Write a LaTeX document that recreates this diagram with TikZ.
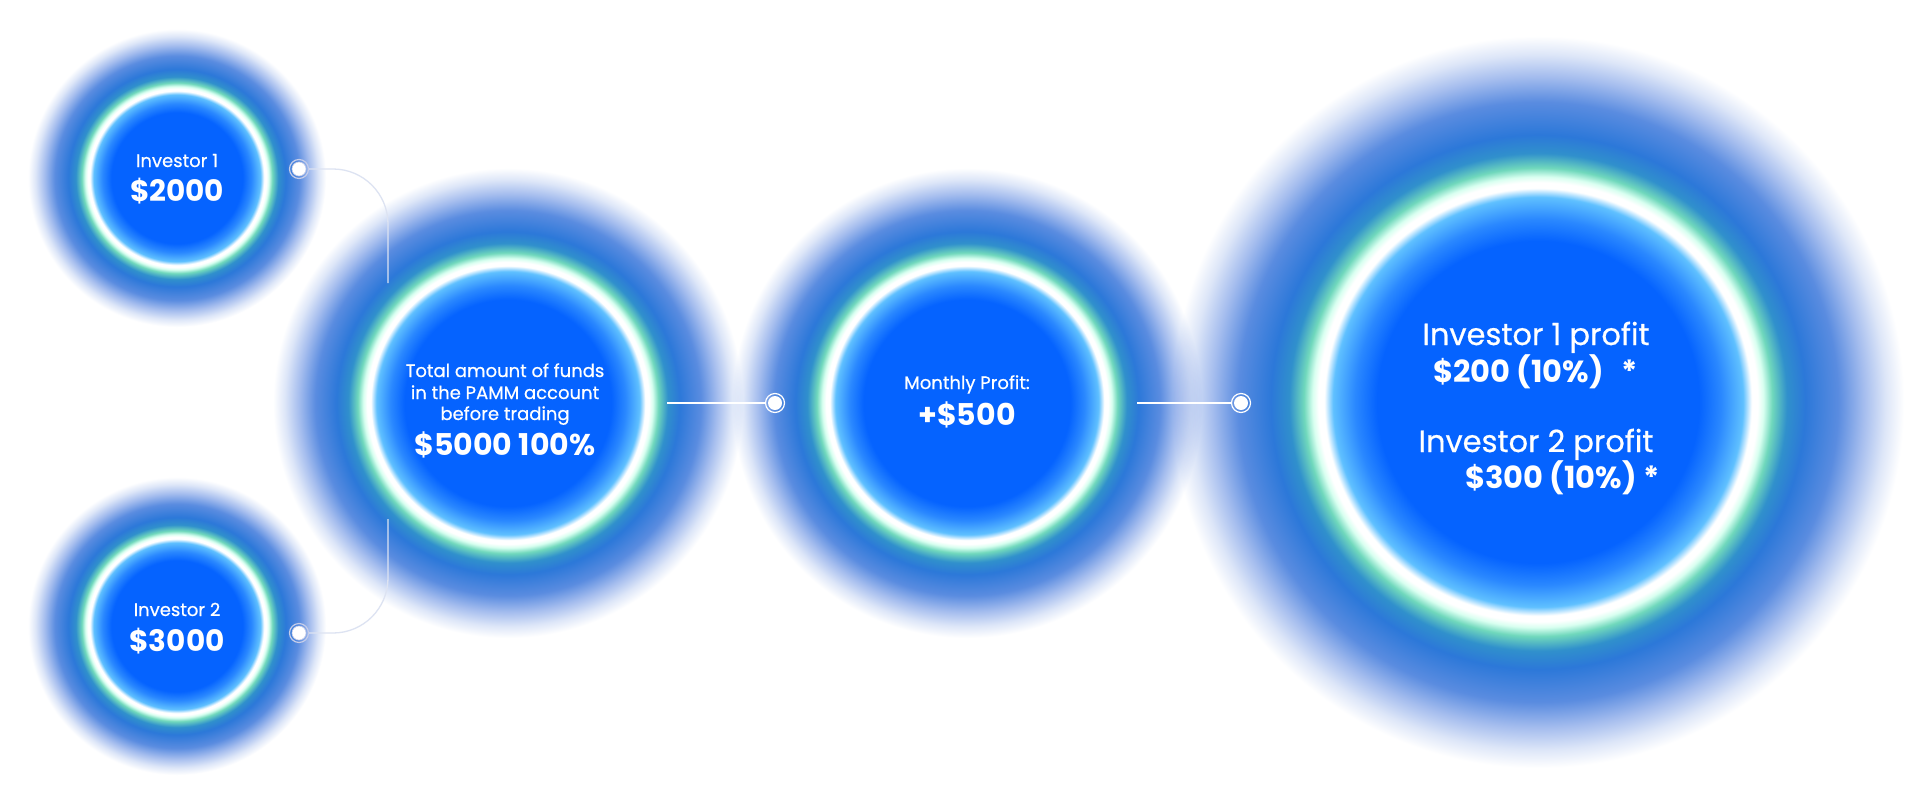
\documentclass[tikz,border=0pt]{standalone}
\usepackage{fontspec}
\setmainfont{Poppins}
\definecolor{gcore}{HTML}{0563FF}
\definecolor{gin}{HTML}{2A88FF}
\definecolor{glight}{HTML}{5FC0FF}
\definecolor{gmint}{HTML}{D8FFF0}
\definecolor{ggreen}{HTML}{70D8BC}
\definecolor{gteal}{HTML}{3090CC}
\definecolor{gblue}{HTML}{2C78D9}
\definecolor{gmid}{HTML}{5A8CE0}
\definecolor{glav}{HTML}{A5BDEE}
\definecolor{gpale}{HTML}{DDE6F8}
\definecolor{connc}{HTML}{DDE3F2}
\definecolor{dotedge}{HTML}{C5CCE8}
\pgfdeclareradialshading{glow}{\pgfpoint{0bp}{0bp}}{%
color(0bp)=(gcore); color(11bp)=(gcore); color(12.5bp)=(gin);
color(14bp)=(glight); color(14.6bp)=(white); color(15bp)=(white);
color(15.4bp)=(gmint); color(16bp)=(ggreen); color(17bp)=(gteal);
color(18.25bp)=(gblue); color(20.5bp)=(gmid); color(22.25bp)=(glav);
color(23.75bp)=(gpale); color(25bp)=(white); color(50bp)=(white)}
\begin{document}
\begin{tikzpicture}[x=1pt,y=-1pt,
  glowc/.style={circle, inner sep=0pt, draw=none, shading=glow, blend mode=multiply},
  lbl/.style={text=white, inner sep=0pt, font=\fontsize{18}{21}\selectfont\addfontfeature{FakeBold=0.6}},
  val/.style={text=white, inner sep=0pt, font=\fontsize{30}{34}\selectfont\bfseries},
  sval/.style={text=white, inner sep=0pt, font=\fontsize{29.5}{34}\selectfont\bfseries},
  biglbl/.style={text=white, inner sep=0pt, font=\fontsize{30.5}{36}\selectfont\addfontfeature{FakeBold=0.6}},
  bigval/.style={text=white, inner sep=0pt, font=\fontsize{30.5}{36}\selectfont\bfseries},
  conn/.style={draw=connc, line width=1.3pt},
  connw/.style={draw=white, line width=2pt},
  dotring/.style={circle, draw=white, line width=1.2pt, minimum size=19pt, inner sep=0pt},
  dotcore/.style={circle, fill=white, minimum size=14pt, inner sep=0pt},
  dotringl/.style={dotring, draw=dotedge},
  dotcorel/.style={dotcore, draw=dotedge, line width=0.6pt}]
\useasboundingbox (0,0) rectangle (1927,806);
\fill[white] (0,0) rectangle (1927,806);

% glows
\node[glowc, minimum size=298pt] (inv1) at (177,178) {};
\node[glowc, minimum size=298pt] (inv2) at (177,626) {};
\node[glowc, minimum size=470pt] (total) at (508,403) {};
\node[glowc, minimum size=470pt] (month) at (967,403) {};
\node[glowc, minimum size=732pt] (result) at (1538,402) {};

% connectors
\coordinate (j1) at (388,283);
\coordinate (j2) at (388,519);
\coordinate (h1) at (667,403);
\coordinate (h2) at (1137,403);
\node[dotringl] (d1) at (299,169) {};
\node[dotringl] (d2) at (299,633) {};
\node[dotring] (d3) at (775,403) {};
\node[dotring] (d4) at (1241,403) {};
\draw[conn, rounded corners=55pt] (d1.east) -| (j1);
\draw[conn, rounded corners=55pt] (d2.east) -| (j2);
\draw[connw] (h1) -- (d3.west);
\draw[connw] (h2) -- (d4.west);
\node[dotcorel] (d1c) at (d1) {};
\node[dotcorel] (d2c) at (d2) {};
\node[dotcore] (d3c) at (d3) {};
\node[dotcore] (d4c) at (d4) {};

% texts
\node[lbl, anchor=base] (inv1a) at (177,167) {Investor 1};
\node[sval, anchor=base] (inv1b) at (177,201) {\$2000};
\node[lbl, anchor=base] (inv2a) at (177,616) {Investor 2};
\node[sval, anchor=base] (inv2b) at (177,651) {\$3000};

\node[lbl, anchor=base] (tot1) at (505,377) {Total amount of funds};
\node[lbl, anchor=base] (tot2) at (505,399) {in the PAMM account};
\node[lbl, anchor=base] (tot3) at (505,420) {before trading};
\node[val, anchor=base] (tot4) at (505,455) {\$5000 100\%};

\node[lbl, anchor=base] (mon1) at (967,389) {Monthly Profit:};
\node[val, anchor=base] (mon2) at (967,425) {+\$500};

\node[biglbl, anchor=base] (res1) at (1536,345) {Investor 1 profit};
\node[bigval, anchor=base west] (res2) at (1433,382) {\$200 (10\%)};
\node[bigval, anchor=base] (res2s) at (1630,382) {*};
\node[biglbl, anchor=base] (res3) at (1536,452) {Investor 2 profit};
\node[bigval, anchor=base west] (res4) at (1465,488) {\$300 (10\%)};
\node[bigval, anchor=base] (res4s) at (1652,488) {*};
\end{tikzpicture}
\end{document}
